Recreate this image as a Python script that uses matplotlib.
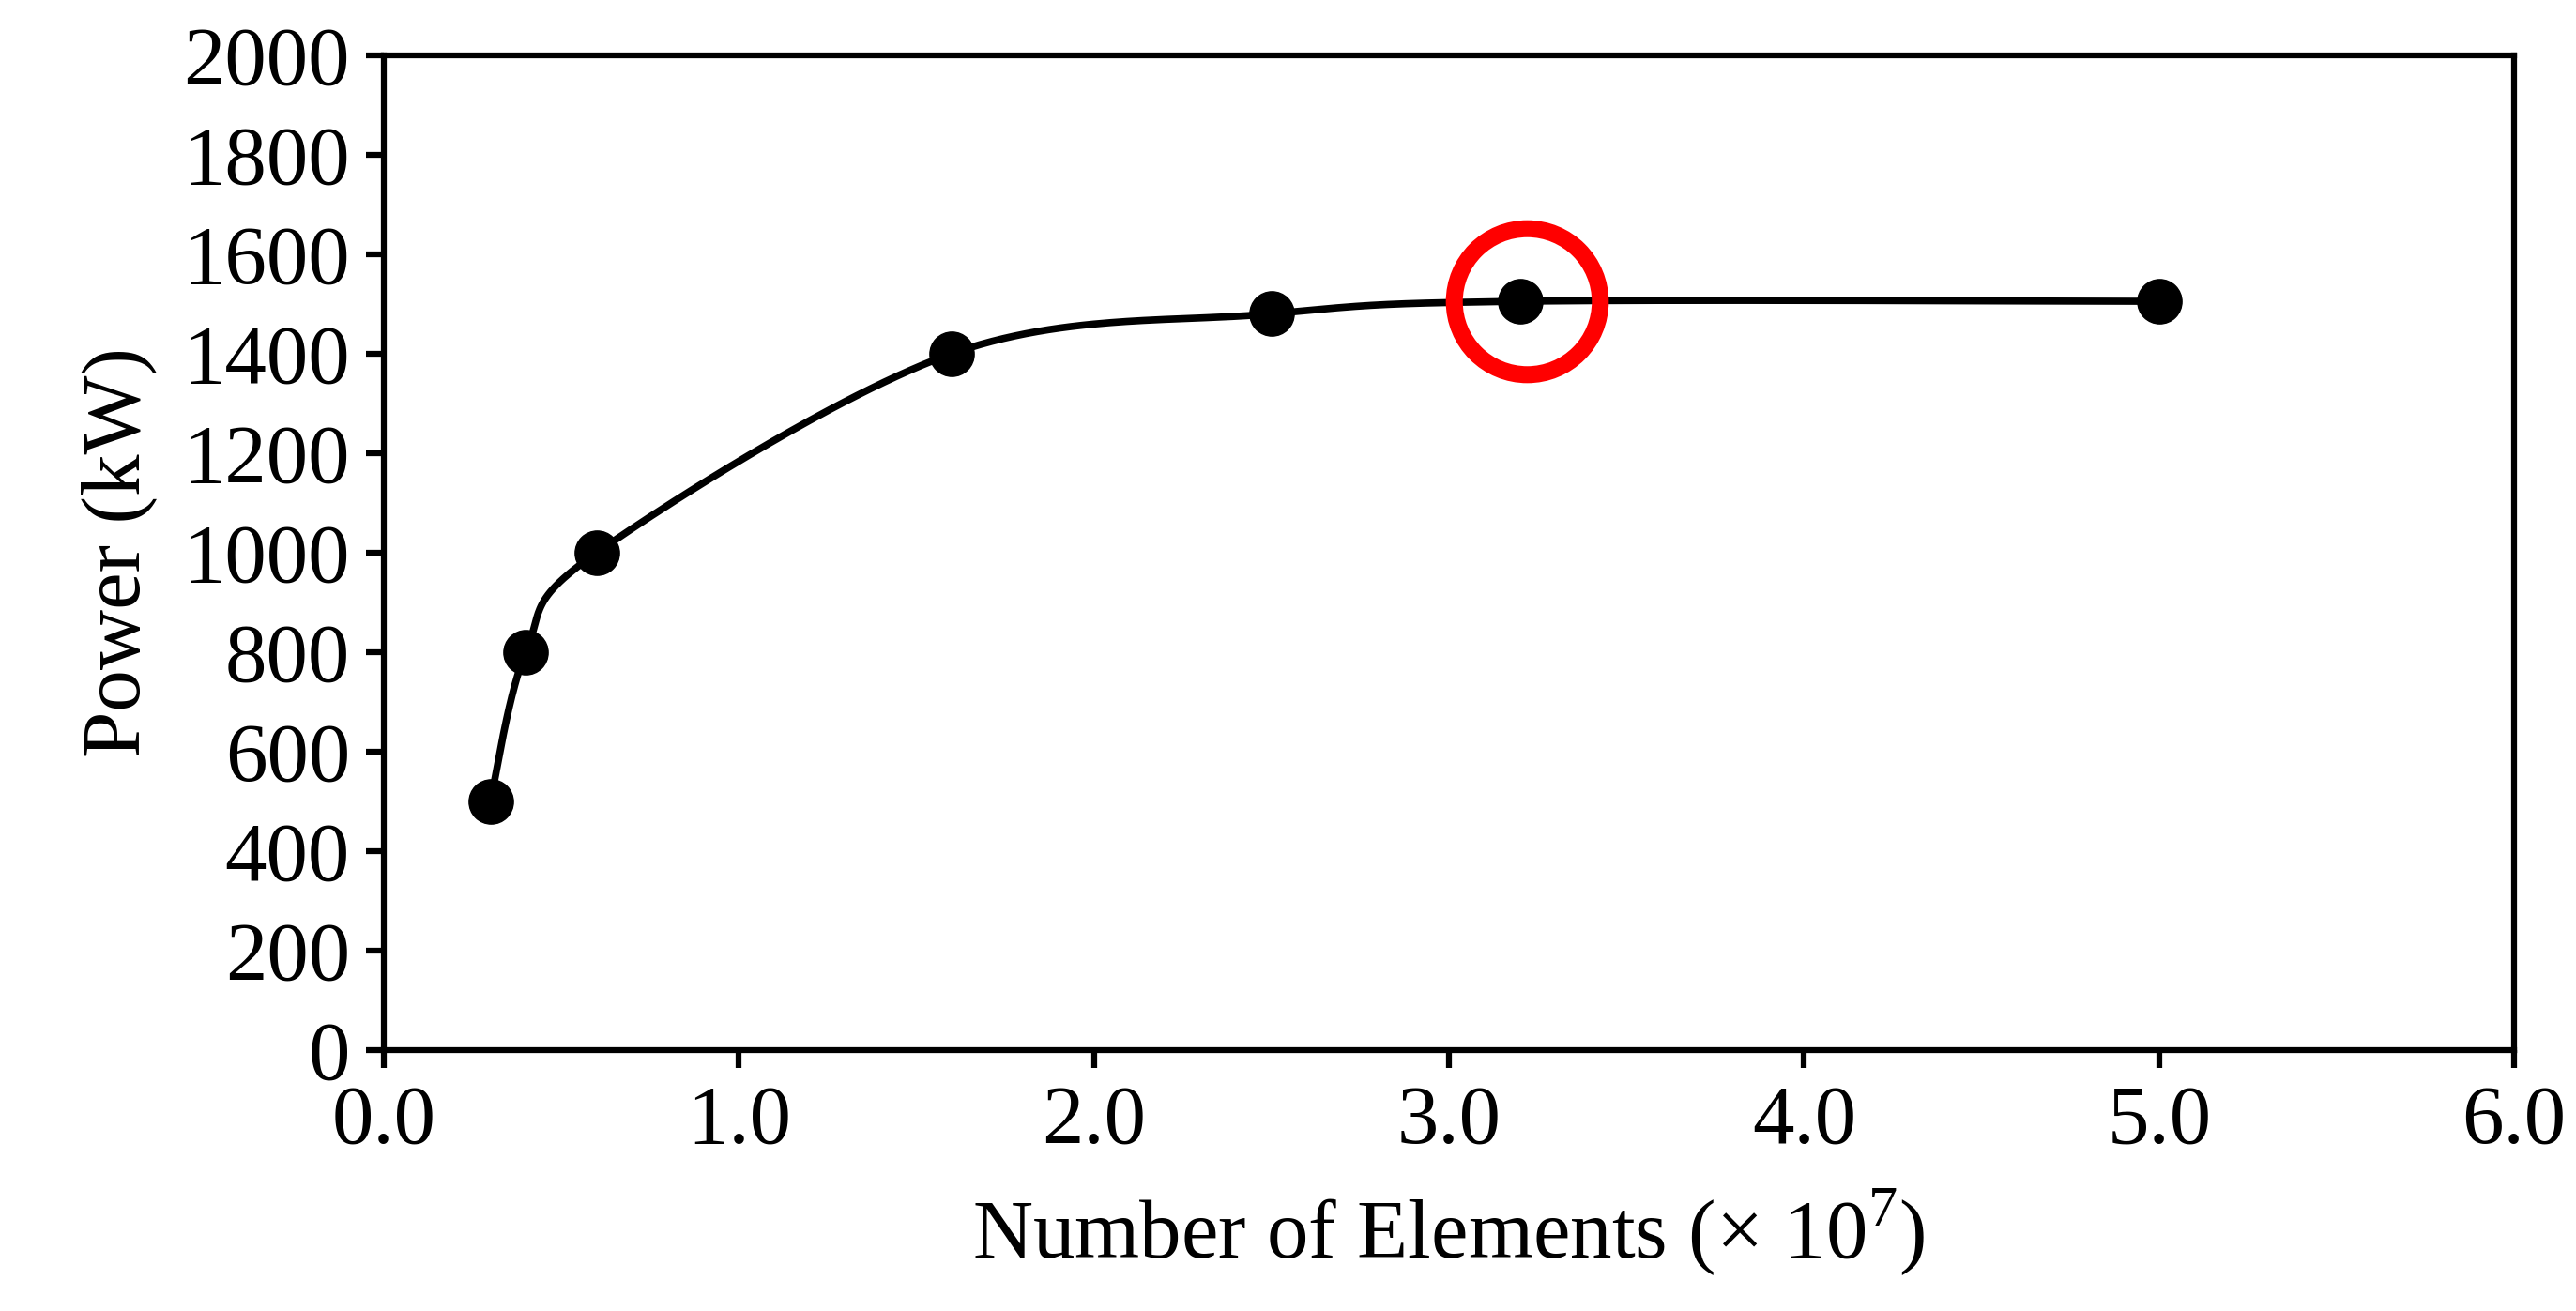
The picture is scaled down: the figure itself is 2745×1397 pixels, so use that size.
import numpy as np
import matplotlib
matplotlib.use("Agg")
import matplotlib.pyplot as plt

elements = [0.3, 0.4, 0.6, 1.6, 2.5, 3.2, 5.0]
power = [500, 800, 1000, 1400, 1480, 1505, 1505]
highlight_x = [3.22]
highlight_y = [1505]

plt.rcParams['font.family'] = ['Liberation Serif', 'DejaVu Serif']
plt.rcParams['mathtext.fontset'] = 'custom'
plt.rcParams['mathtext.rm'] = 'Liberation Serif'

def smooth(x, y, n=60):
    p = np.column_stack([x, y]).astype(float)
    out = []
    for i in range(len(p) - 1):
        p0 = p[i - 1] if i > 0 else p[i]
        p1, p2 = p[i], p[i + 1]
        p3 = p[i + 2] if i + 2 < len(p) else p[i + 1]
        c1 = p1 + (p2 - p0) / 6
        c2 = p2 - (p3 - p1) / 6
        t = np.linspace(0, 1, n)[:, None]
        out.append((1-t)**3*p1 + 3*(1-t)**2*t*c1 + 3*(1-t)*t**2*c2 + t**3*p2)
    return np.vstack(out)

fig = plt.figure(figsize=(27.45, 13.97), dpi=100)
ax = fig.add_axes([0.149, 0.199, 0.827, 0.759])
c = smooth(elements, power)
ax.plot(c[:, 0], c[:, 1], color='black', lw=5.5, zorder=2)
ax.plot(elements, power, 'o', color='black', ms=34, zorder=3)
ax.plot(highlight_x, highlight_y, 'o', mfc='none', mec='#ff0000', ms=112, mew=13, zorder=4)

ax.set_xlim(0, 6)
ax.set_ylim(0, 2000)
ax.set_xticks(np.arange(0, 6.01, 1.0))
ax.set_xticklabels([f"{v:.1f}" for v in np.arange(0, 6.01, 1.0)])
ax.set_yticks(np.arange(0, 2001, 200))
for s in ax.spines.values():
    s.set_linewidth(4.5)
ax.tick_params(direction='out', length=14, width=4.5, labelsize=64, pad=12)
ax.set_xlabel('Number of Elements (× 10$^{\\mathrm{7}}$)', fontsize=64, labelpad=20)
ax.set_ylabel('Power (kW)', fontsize=64, labelpad=20)
fig.savefig('out.png', dpi=100)
